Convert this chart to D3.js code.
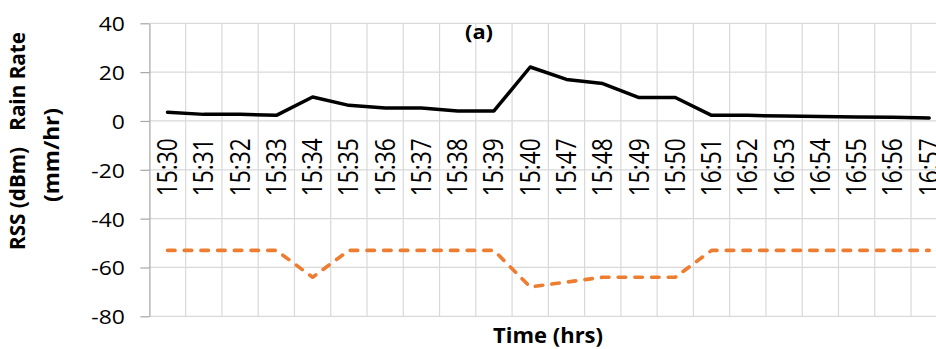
<!DOCTYPE html>
<html>
<head>
<meta charset="utf-8">
<script src="https://cdn.jsdelivr.net/npm/d3@7/dist/d3.min.js"></script>
<style>
  html, body { margin: 0; padding: 0; background: #fff; }
  svg { display: block; }
  text { font-family: "Open Sans", Lato, sans-serif; fill: #000; white-space: pre; }
</style>
</head>
<body>
<svg id="chart" width="936" height="349"></svg>
<script>
const categories = ["15:30","15:31","15:32","15:33","15:34","15:35","15:36","15:37","15:38","15:39","15:40",
                    "15:47","15:48","15:49","15:50",
                    "16:51","16:52","16:53","16:54","16:55","16:56","16:57"];
const rainRate = [3.6,2.7,2.7,2.3,9.8,6.4,5.3,5.3,4.1,4.1,22.1,17,15.3,9.6,9.6,2.3,2.3,2.0,1.8,1.6,1.5,1.2];
const rss = [-53,-53,-53,-53,-64,-53,-53,-53,-53,-53,-68,-66,-64,-64,-64,-53,-53,-53,-53,-53,-53,-53];
const yTicks = [-80,-60,-40,-20,0,20,40];
const chartTitle = "(a)";
const xTitle = "Time (hrs)";
const yTitleLine1 = "RSS (dBm)   Rain Rate";
const yTitleLine2 = "(mm/hr)";

(function() {
const svg = d3.select("#chart");
const pLeft = 149.4, pRight = 947.3, pTop = 23.3, pBottom = 316.3;

const x = d3.scaleBand().domain(categories).range([pLeft, pRight]).paddingInner(0).paddingOuter(0);
const y = d3.scaleLinear().domain([-80, 40]).range([pBottom, pTop]);
const bw = x.bandwidth();
const gridColor = "#d9d9d9";

// horizontal gridlines
svg.append("g").selectAll("line").data(yTicks).join("line")
  .attr("x1", pLeft).attr("x2", pRight)
  .attr("y1", d => y(d)).attr("y2", d => y(d))
  .attr("stroke", gridColor).attr("stroke-width", 1.2);

// vertical gridlines at category boundaries
svg.append("g").selectAll("line").data(categories.slice(1)).join("line")
  .attr("x1", d => x(d)).attr("x2", d => x(d))
  .attr("y1", pTop).attr("y2", pBottom)
  .attr("stroke", gridColor).attr("stroke-width", 1.2);

// y axis
const yAxis = svg.append("g")
  .attr("transform", `translate(${pLeft},0)`)
  .call(d3.axisLeft(y).tickValues(yTicks).tickSize(9).tickPadding(15.5).tickSizeOuter(0).tickFormat(d => String(d)));
yAxis.select(".domain").attr("stroke", "#a6a6a6").attr("stroke-width", 1.2);
yAxis.selectAll(".tick line").attr("stroke", "#a6a6a6").attr("stroke-width", 1.2);
yAxis.selectAll(".tick text")
  .attr("font-size", 19.6).attr("font-family", "'Open Sans', Lato, sans-serif")
  .attr("fill", "#000").attr("dy", "0.38em")
  .each(function() {
    const L = this.getComputedTextLength();
    d3.select(this).attr("textLength", L * 1.17).attr("lengthAdjust", "spacingAndGlyphs");
  });

// category labels (rotated)
svg.append("g").selectAll("text").data(categories).join("text")
  .attr("transform", d => `translate(${x(d) + bw / 2},${y(0) + 17.3}) rotate(-90)`)
  .attr("text-anchor", "end")
  .attr("dy", "0.36em")
  .attr("font-size", 26.5)
  .attr("textLength", 58)
  .attr("lengthAdjust", "spacingAndGlyphs")
  .text(d => d);

// lines
const line = d3.line().x((d, i) => x(categories[i]) + bw / 2).y(d => y(d));

svg.append("path").datum(rss)
  .attr("d", line)
  .attr("fill", "none")
  .attr("stroke", "#ED7D31")
  .attr("stroke-width", 3.6)
  .attr("stroke-dasharray", "7.5,9.2")
  .attr("stroke-linecap", "round")
  .attr("stroke-linejoin", "round");

svg.append("path").datum(rainRate)
  .attr("d", line)
  .attr("fill", "none")
  .attr("stroke", "#000")
  .attr("stroke-width", 3.5)
  .attr("stroke-linecap", "round")
  .attr("stroke-linejoin", "round");

// titles
svg.append("text")
  .attr("x", 479).attr("y", 39)
  .attr("text-anchor", "middle")
  .attr("font-weight", "bold").attr("font-size", 20)
  .attr("textLength", 28).attr("lengthAdjust", "spacingAndGlyphs")
  .text(chartTitle);

svg.append("text")
  .attr("x", 548).attr("y", 343)
  .attr("text-anchor", "middle")
  .attr("font-weight", "bold").attr("font-size", 21)
  .attr("textLength", 110).attr("lengthAdjust", "spacingAndGlyphs")
  .text(xTitle);

svg.append("text")
  .attr("transform", "translate(25,141) rotate(-90)")
  .attr("text-anchor", "middle")
  .attr("font-weight", "bold").attr("font-size", 22)
  .attr("textLength", 218).attr("lengthAdjust", "spacingAndGlyphs")
  .text(yTitleLine1);

svg.append("text")
  .attr("transform", "translate(59,155) rotate(-90)")
  .attr("text-anchor", "middle")
  .attr("font-weight", "bold").attr("font-size", 22)
  .attr("textLength", 94).attr("lengthAdjust", "spacingAndGlyphs")
  .text(yTitleLine2);
})();
</script>
</body>
</html>
